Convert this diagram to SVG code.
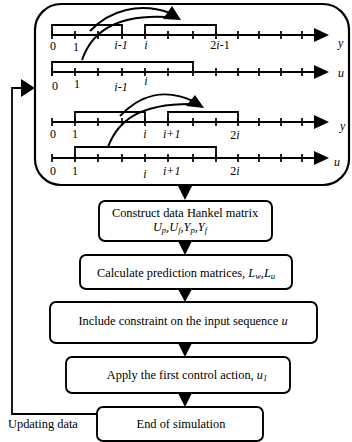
<svg xmlns="http://www.w3.org/2000/svg" width="352" height="442" viewBox="0 0 352 442">
  <style>
    text { font-family: "Liberation Serif", "Times New Roman", "DejaVu Serif", serif; fill: #000; }
    .lbl { font-size: 12px; }
    .it { font-style: italic; }
    .box { fill: #fff; stroke: #000; stroke-width: 1.9; }
    .ax { stroke: #000; stroke-width: 2.2; fill: none; }
    .tk { stroke: #000; stroke-width: 1.7; }
    .br { stroke: #000; stroke-width: 1.8; fill: none; }
    .arc { stroke: #000; stroke-width: 2; fill: none; }
    .t { font-size: 12.4px; text-anchor: middle; }
    .sub { font-size: 8.5px; font-style: italic; }
  </style>
  <defs>
    <g id="ticks">
      <path class="tk" d="M52,-4V4 M75,-4V4 M98,-4V4 M122,-4V4 M145,-4V4 M168,-4V4 M193,-4V4 M216,-4V4 M238,-4V4 M259,-4V4 M281,-4V4 M302,-4V4"/>
      <path class="ax" d="M52,0H316"/>
      <polygon points="314,-7 314,7 329,0"/>
    </g>
  </defs>

  <!-- data window panel -->
  <g id="window">
    <rect x="35" y="4" width="314" height="181" rx="26" ry="26" fill="#fff" stroke="#000" stroke-width="2.2"/>

    <!-- axis 1: output y, past/future split at i -->
    <use href="#ticks" transform="translate(0,35)"/>
    <path class="br" d="M52,35V25H122V35 M145,35V25H216V35"/>
    <text class="lbl" x="53" y="50" text-anchor="middle">0</text>
    <text class="lbl" x="76" y="51" text-anchor="middle">1</text>
    <text class="lbl it" x="121" y="49" text-anchor="middle">i-1</text>
    <text class="lbl it" x="146" y="49" text-anchor="middle">i</text>
    <text class="lbl" x="220" y="49" text-anchor="middle">2<tspan class="it">i</tspan>-1</text>
    <text class="lbl it" x="338" y="47">y</text>

    <!-- axis 2: input u -->
    <use href="#ticks" transform="translate(0,72)"/>
    <path class="br" d="M52,76V62H193V72"/>
    <text class="lbl" x="55" y="90" text-anchor="middle">0</text>
    <text class="lbl" x="77" y="88" text-anchor="middle">1</text>
    <text class="lbl it" x="121" y="91" text-anchor="middle">i-1</text>
    <text class="lbl it" x="146" y="85" text-anchor="middle">i</text>
    <text class="lbl it" x="338" y="77">u</text>

    <!-- shift arrows, first window -->
    <path class="arc" d="M90,31 C110,10 140,2 170,13"/>
    <path class="arc" d="M82,60 C92,30 120,14 168,17"/>
    <polygon points="181,20 172,6 163,19"/>

    <!-- axis 3: output y, window shifted by one -->
    <use href="#ticks" transform="translate(0,122)"/>
    <path class="br" d="M75,122V112H145V122 M168,122V112H238V122"/>
    <text class="lbl" x="53" y="138" text-anchor="middle">0</text>
    <text class="lbl" x="75" y="138" text-anchor="middle">1</text>
    <text class="lbl it" x="145" y="138" text-anchor="middle">i</text>
    <text class="lbl it" x="163" y="138">i+1</text>
    <text class="lbl" x="235" y="139" text-anchor="middle">2<tspan class="it">i</tspan></text>
    <text class="lbl it" x="340" y="130">y</text>

    <!-- axis 4: input u, window shifted by one -->
    <use href="#ticks" transform="translate(0,158)"/>
    <path class="br" d="M75,158V147H216V158"/>
    <text class="lbl" x="53" y="175" text-anchor="middle">0</text>
    <text class="lbl" x="75" y="175" text-anchor="middle">1</text>
    <text class="lbl it" x="145" y="178" text-anchor="middle">i</text>
    <text class="lbl it" x="163" y="175">i+1</text>
    <text class="lbl" x="235" y="175" text-anchor="middle">2<tspan class="it">i</tspan></text>
    <text class="lbl it" x="334" y="166">u</text>

    <!-- shift arrows, second window -->
    <path class="arc" d="M120,116 C140,95 165,88 193,101"/>
    <path class="arc" d="M108,147 C118,120 140,104 190,104"/>
    <polygon points="204,108 195,95 186,106"/>
  </g>

  <!-- flow connectors -->
  <g id="connectors">
    <polygon points="178,186 192,186 185,200"/>
    <polygon points="178,241 192,241 185,255"/>
    <polygon points="178,289 192,289 185,302"/>
    <polygon points="178,343 192,343 185,357"/>
    <polygon points="178,393 192,393 185,407"/>
    <path d="M97,414H12V88H22" fill="none" stroke="#000" stroke-width="1.8"/>
    <polygon points="21,79 21,97 35,88"/>
    <text x="8" y="428" font-size="12.4px">Updating data</text>
  </g>

  <g id="hankel">
    <rect class="box" x="99" y="201" width="173" height="40" rx="6"/>
    <text class="t" x="185" y="217">Construct data Hankel matrix</text>
    <text class="t it" x="180" y="231">U<tspan class="sub" dy="2">p</tspan><tspan dy="-2">,U</tspan><tspan class="sub" dy="2">f</tspan><tspan dy="-2">,Y</tspan><tspan class="sub" dy="2">p</tspan><tspan dy="-2">,Y</tspan><tspan class="sub" dy="2">f</tspan></text>
  </g>

  <g id="prediction">
    <rect class="box" x="80" y="255" width="212" height="34" rx="6"/>
    <text class="t" x="186" y="277">Calculate prediction matrices, <tspan class="it">L</tspan><tspan class="sub" dy="2">w</tspan><tspan dy="-2">,</tspan><tspan class="it">L</tspan><tspan class="sub" dy="2">u</tspan></text>
  </g>

  <g id="constraint">
    <rect class="box" x="50" y="302" width="267" height="41" rx="6"/>
    <text class="t" x="183" y="325">Include constraint on the input sequence <tspan class="it">u</tspan></text>
  </g>

  <g id="apply">
    <rect class="box" x="66" y="357" width="224" height="36" rx="6"/>
    <text class="t" x="187" y="379">Apply the first control action, <tspan class="it">u</tspan><tspan class="sub" dy="2">1</tspan></text>
  </g>

  <g id="end">
    <rect class="box" x="97" y="407" width="166" height="34" rx="6"/>
    <text class="t" x="181" y="428">End of simulation</text>
  </g>
</svg>
